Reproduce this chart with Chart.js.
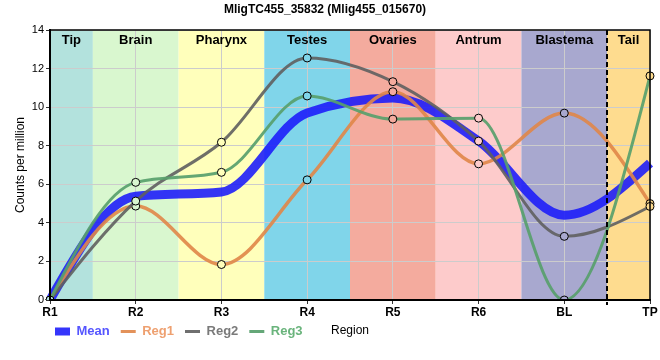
<!DOCTYPE html>
<html><head><meta charset="utf-8">
<script src="https://cdn.jsdelivr.net/npm/chart.js@4.4.1/dist/chart.umd.min.js"></script>
<style>html,body{margin:0;padding:0;background:#fff}#wrap{width:660px;height:360px}</style>
</head><body><div id="wrap"><canvas id="c" width="660" height="360"></canvas></div>
<script>
const categories = ['R1','R2','R3','R4','R5','R6','BL','TP'];
const regionNames = ['Tip','Brain','Pharynx','Testes','Ovaries','Antrum','Blastema','Tail'];
const regionColors = ['#b3e2dd','#d9f7cf','#ffffbb','#80d5ea','#f4ab9e','#fdcbcb','#a8a8cf','#fedc8f'];
const meanValues = [0, 5.38, 5.6, 9.7, 10.47, 8.24, 4.4, 7.1];
const reg1Values = [0, 4.87, 1.84, 6.23, 10.8, 7.06, 9.69, 5.0];
const reg2Values = [0, 5.13, 8.18, 12.55, 11.32, 8.24, 3.3, 4.85];
const reg3Values = [0, 6.1, 6.62, 10.58, 9.38, 9.43, 0, 11.62];
const yTicks = [0, 2, 4, 6, 8, 10, 12, 14];
const legendTextColors = ['#5555ff','#eea070','#7a7a7a','#6ab47c'];

Chart.defaults.font.family = "'Liberation Sans', Arial, sans-serif";
Chart.defaults.color = '#000';

// monotone (Steffen) control points, like d3.curveMonotoneX
const steffenPlugin = {
  id: 'steffen',
  beforeDatasetDraw(chart, args) {
    const line = args.meta.dataset;
    if (!line) return;
    line.updateControlPoints(chart.chartArea, 'x');
    const pts = line.points;
    const n = pts.length;
    if (n < 3) return;
    const xs = pts.map(p => p.x), ys = pts.map(p => p.y);
    const sgn = v => (v > 0 ? 1 : v < 0 ? -1 : 0);
    const m = new Array(n).fill(0);
    for (let i = 1; i < n - 1; i++) {
      const h0 = xs[i] - xs[i - 1], h1 = xs[i + 1] - xs[i];
      const s0 = (ys[i] - ys[i - 1]) / h0, s1 = (ys[i + 1] - ys[i]) / h1;
      const p = (s0 * h1 + s1 * h0) / (h0 + h1);
      m[i] = (sgn(s0) + sgn(s1)) * Math.min(Math.abs(s0), Math.abs(s1), 0.5 * Math.abs(p)) || 0;
    }
    m[0] = (3 * (ys[1] - ys[0]) / (xs[1] - xs[0]) - m[1]) / 2;
    m[n - 1] = (3 * (ys[n - 1] - ys[n - 2]) / (xs[n - 1] - xs[n - 2]) - m[n - 2]) / 2;
    for (let i = 0; i < n; i++) {
      if (i > 0) {
        const h = xs[i] - xs[i - 1];
        pts[i].cp1x = xs[i] - h / 3; pts[i].cp1y = ys[i] - m[i] * h / 3;
      }
      if (i < n - 1) {
        const h = xs[i + 1] - xs[i];
        pts[i].cp2x = xs[i] + h / 3; pts[i].cp2y = ys[i] + m[i] * h / 3;
      }
    }
    line._path = undefined;
  }
};

const bandPlugin = {
  id: 'bands',
  beforeDraw(chart) {
    if (chart.legend) { chart.legend.left = 44; chart.legend.top = 314; }
    const {ctx, chartArea: a, scales: {x}} = chart;
    ctx.save();
    regionNames.forEach((n, i) => {
      const l = Math.max(a.left, x.getPixelForValue(i - 0.5));
      const r = Math.min(a.right, x.getPixelForValue(i + 0.5));
      ctx.fillStyle = regionColors[i];
      ctx.fillRect(l, a.top, r - l, a.bottom - a.top);
    });
    ctx.restore();
  },
  beforeDatasetsDraw(chart) {
    const {ctx, chartArea: a, scales: {x}} = chart;
    ctx.save();
    ctx.font = "bold 13px 'Liberation Sans', Arial, sans-serif";
    ctx.fillStyle = '#000';
    ctx.textAlign = 'center';
    ctx.textBaseline = 'middle';
    regionNames.forEach((n, i) => {
      const l = Math.max(a.left, x.getPixelForValue(i - 0.5));
      const r = Math.min(a.right, x.getPixelForValue(i + 0.5));
      ctx.fillText(n, (l + r) / 2, a.top + 10);
    });
    ctx.restore();
  },
  afterDatasetsDraw(chart) {
    const {ctx, chartArea: a, scales: {x}} = chart;
    ctx.save();
    const px = Math.round(x.getPixelForValue(6.5));
    ctx.strokeStyle = '#000';
    ctx.lineWidth = 2;
    ctx.setLineDash([5, 3]);
    ctx.beginPath();
    ctx.moveTo(px, a.top);
    ctx.lineTo(px, a.bottom + 5);
    ctx.stroke();
    ctx.setLineDash([]);
    ctx.lineWidth = 1.5;
    ctx.beginPath();
    ctx.moveTo(a.left, a.top);
    ctx.lineTo(a.right, a.top);
    ctx.lineTo(a.right, a.bottom);
    ctx.stroke();
    ctx.restore();
  }
};

function ds(label, data, color, width, order, points) {
  return {
    label, data, borderColor: color, backgroundColor: color,
    borderWidth: width, order,
    cubicInterpolationMode: 'monotone', fill: false,
    pointRadius: points ? 4 : 0, pointHoverRadius: points ? 4 : 0,
    pointBackgroundColor: c => regionColors[c.dataIndex],
    pointBorderColor: '#000', pointBorderWidth: 1
  };
}

new Chart(document.getElementById('c'), {
  type: 'line',
  data: {
    labels: categories,
    datasets: [
      ds('Mean', meanValues, 'rgba(25,25,250,0.88)', 9, 4, false),
      ds('Reg1', reg1Values, 'rgba(224,134,72,0.9)', 3.5, 3, true),
      ds('Reg2', reg2Values, 'rgba(95,95,95,0.9)', 3, 2, true),
      ds('Reg3', reg3Values, 'rgba(88,160,108,0.92)', 3, 1, true)
    ]
  },
  options: {
    responsive: false, animation: false,
    layout: { padding: { left: 0, right: 10, top: 0, bottom: 6 } },
    plugins: {
      title: { display: true, text: 'MligTC455_35832 (Mlig455_015670)', font: { size: 12, weight: 'bold' }, color: '#000', padding: { top: 2, bottom: 13.6 } },
      legend: {
        display: true, position: 'bottom', align: 'start',
        labels: {
          usePointStyle: true, pointStyleWidth: 15, boxHeight: 8, padding: 11,
          font: { size: 13, weight: 'bold' },
          generateLabels(chart) {
            return chart.data.datasets.map((d, i) => ({
              text: d.label, datasetIndex: i, hidden: false,
              fillStyle: d.borderColor, strokeStyle: d.borderColor,
              lineWidth: i === 0 ? 0 : 3,
              pointStyle: i === 0 ? 'rect' : 'line',
              fontColor: legendTextColors[i]
            }));
          }
        }
      },
      tooltip: { enabled: false }
    },
    scales: {
      x: {
        type: 'category', offset: false,
        grid: { color: '#cccccc', tickLength: 4, tickColor: '#333', offset: false },
        border: { color: '#000', width: 2, z: 1 },
        ticks: { font: { size: 12, weight: 'bold' }, color: '#000', padding: 1, maxRotation: 0 },
        title: { display: true, text: 'Region', font: { size: 12 }, color: '#000', padding: { top: 0, bottom: -18 } },
        afterFit(s) { s.height = 20; }
      },
      y: {
        min: 0, max: 14,
        afterBuildTicks(s) { s.ticks = yTicks.map(v => ({ value: v })); },
        grid: { color: '#cccccc', tickLength: 4, tickColor: '#333' },
        border: { color: '#000', width: 2, z: 1 },
        ticks: { font: { size: 11 }, color: '#000', padding: 2 },
        title: { display: true, text: 'Counts per million', font: { size: 12 }, color: '#000', padding: { top: 13, bottom: 0 } },
        afterFit(s) { s.width = 50; }
      }
    }
  },
  plugins: [steffenPlugin, bandPlugin]
});
</script></body></html>
